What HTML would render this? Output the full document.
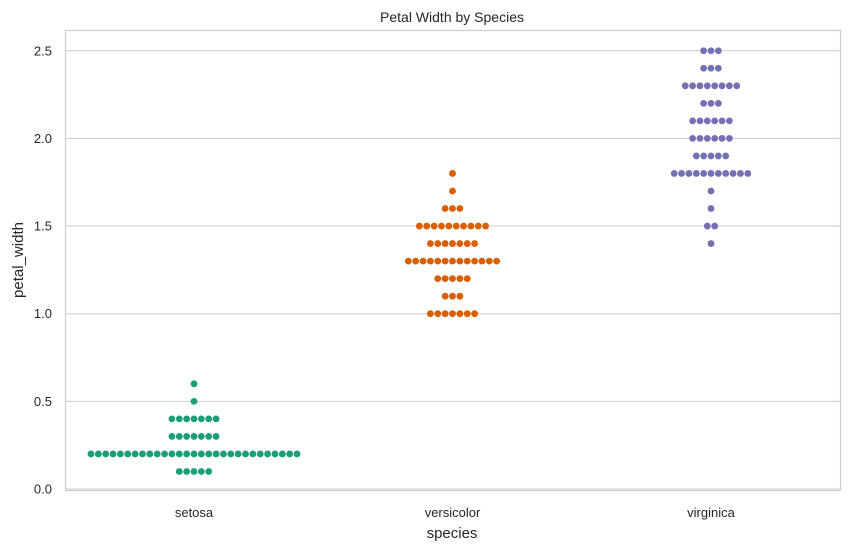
<!DOCTYPE html>
<html><head><meta charset="utf-8"><style>
body{margin:0;background:#fff;}
svg text{font-family:"Liberation Sans",Arial,sans-serif;fill:#262626;}
</style></head><body>
<svg id="chart" width="850" height="550">
<text x="452" y="22" font-size="14" text-anchor="middle">Petal Width by Species</text>
<g id="grid"></g>
<rect x="65.5" y="30.5" width="775" height="460" fill="none" stroke="#cccccc" stroke-width="1.2"/>
<g id="ticks"></g>
<g id="dots"></g>
<text x="452" y="538" font-size="15" text-anchor="middle">species</text>
<text transform="translate(23,260) rotate(-90)" font-size="15" text-anchor="middle">petal_width</text>
</svg>
<script>
const categories = ["setosa","versicolor","virginica"];
const colors = ["#1b9e77","#d95f02","#7570b3"];
const setosaValues = [0.1,0.2,0.3,0.4,0.5,0.6];
const setosaCounts = [5,29,7,7,1,1];
const versicolorValues = [1.0,1.1,1.2,1.3,1.4,1.5,1.6,1.7,1.8];
const versicolorCounts = [7,3,5,13,7,10,3,1,1];
const virginicaValues = [1.4,1.5,1.6,1.7,1.8,1.9,2.0,2.1,2.2,2.3,2.4,2.5];
const virginicaCounts = [1,2,1,1,11,5,6,6,3,8,3,3];
const yTicks = [0.0,0.5,1.0,1.5,2.0,2.5];
const yTickLabels = ["0.0","0.5","1.0","1.5","2.0","2.5"];

const NS="http://www.w3.org/2000/svg";
function y(v){return 489 - v*175.3;}
function x(i){return 194 + i*258.5;}
const grid=document.getElementById('grid'), ticks=document.getElementById('ticks'), dots=document.getElementById('dots');
yTicks.forEach((t,i)=>{
  const l=document.createElementNS(NS,'line');
  l.setAttribute('x1',65);l.setAttribute('x2',840);l.setAttribute('y1',y(t));l.setAttribute('y2',y(t));
  l.setAttribute('stroke','#cccccc');l.setAttribute('stroke-width','1');
  
  
  grid.appendChild(l);
  const tx=document.createElementNS(NS,'text');
  tx.setAttribute('x',52);tx.setAttribute('y',y(t)+4.5);tx.setAttribute('font-size','13');tx.setAttribute('text-anchor','end');
  tx.textContent=yTickLabels[i];
  
  
  ticks.appendChild(tx);
});
categories.forEach((c,i)=>{
  const tx=document.createElementNS(NS,'text');
  tx.setAttribute('x',x(i));tx.setAttribute('y',517);tx.setAttribute('font-size','13');tx.setAttribute('text-anchor','middle');
  tx.textContent=c;
  
  
  ticks.appendChild(tx);
});
const allValues=[setosaValues,versicolorValues,virginicaValues];
const allCounts=[setosaCounts,versicolorCounts,virginicaCounts];
const sp=7.36;
allValues.forEach((vals,si)=>{
  vals.forEach((v,vi)=>{
    const n=allCounts[si][vi];
    for(let k=0;k<n;k++){
      const cx=x(si)+(k-(n-1)/2)*sp;
      const c=document.createElementNS(NS,'circle');
      c.setAttribute('cx',cx);c.setAttribute('cy',y(v));c.setAttribute('r',3.4);
      c.setAttribute('fill',colors[si]);
      
      
      dots.appendChild(c);
    }
  });
});
</script>
</body></html>
